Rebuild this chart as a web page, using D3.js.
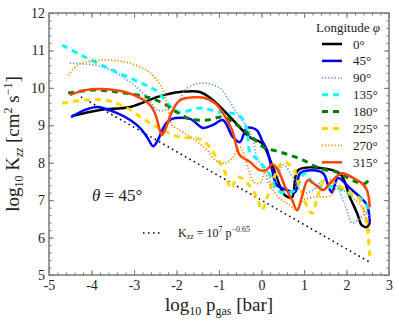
<!DOCTYPE html>
<html>
<head>
<meta charset="utf-8">
<script src="https://cdn.jsdelivr.net/npm/d3@7"></script>
<style>
  body { margin: 0; background: #fff; }
  svg { display: block; }
  text { font-family: "Liberation Serif", "DejaVu Serif", serif; fill: #222; font-weight: normal; }
</style>
</head>
<body>
<div id="chart"></div>
<script>
// log10 p_gas [bar], log10 Kzz [cm2 s-1] per longitude
const lon0 = [[-4.46,9.25],[-3.80,9.41],[-3.09,9.49],[-2.39,9.78],[-1.92,9.89],[-1.45,9.89],[-1.14,9.67],[-0.67,9.14],[-0.27,8.68],[0.01,8.52],[0.25,7.94],[0.55,7.13],[0.72,7.08],[0.86,7.80],[1.38,7.86],[1.85,7.70],[2.08,7.08],[2.25,6.65],[2.36,6.33],[2.48,6.28],[2.55,6.41]];
const lon45 = [[-4.48,9.22],[-4.15,9.41],[-3.87,9.49],[-3.45,9.35],[-3.09,9.14],[-2.86,8.93],[-2.69,8.68],[-2.55,8.44],[-2.44,8.60],[-2.27,9.01],[-2.11,9.17],[-1.68,9.17],[-1.38,8.93],[-1.14,9.01],[-0.91,9.14],[-0.67,8.68],[-0.51,8.55],[-0.34,8.93],[-0.11,8.87],[0.01,8.60],[0.13,8.34],[0.25,7.80],[0.36,7.40],[0.60,7.27],[0.79,7.21],[0.91,7.72],[1.19,7.80],[1.45,7.72],[1.59,7.32],[1.66,7.21],[1.80,7.59],[2.08,7.32],[2.32,7.08],[2.48,6.87],[2.55,6.41]];
const lon90 = [[-4.51,10.66],[-3.73,10.56],[-3.16,10.21],[-2.69,9.75],[-2.46,9.41],[-2.27,9.41],[-1.99,9.59],[-1.75,9.99],[-1.38,10.13],[-0.98,9.99],[-0.81,9.75],[-0.58,9.33],[-0.34,8.95],[-0.20,8.60],[-0.11,8.15],[0.08,7.75],[0.20,7.40],[0.34,7.53],[0.51,7.94],[0.74,7.61],[0.98,7.19],[1.21,7.27],[1.45,7.53],[1.68,7.53],[1.89,7.08],[2.01,6.73],[2.13,6.39],[2.27,6.47],[2.48,6.65],[2.55,6.52]];
const lon135 = [[-4.69,11.14],[-4.20,10.85],[-3.56,10.50],[-2.93,10.18],[-2.46,9.91],[-2.27,9.67],[-2.11,9.46],[-1.92,9.35],[-1.45,9.46],[-0.98,9.35],[-0.51,9.25],[-0.34,8.87],[-0.27,8.28],[-0.08,8.07],[0.20,7.67],[0.36,7.27],[0.60,7.19],[0.79,7.27],[1.02,7.72],[1.21,7.45],[1.45,7.32],[1.73,7.37],[2.01,7.19],[2.32,7.05],[2.48,6.87],[2.55,6.65]];
const lon180 = [[-4.55,9.86],[-3.96,9.94],[-3.40,9.89],[-2.93,9.81],[-2.62,9.73],[-2.32,9.59],[-1.99,9.35],[-1.68,9.17],[-1.28,9.14],[-0.91,9.22],[-0.58,9.01],[-0.27,8.74],[0.04,8.42],[0.36,8.31],[0.67,8.20],[0.98,8.07],[1.31,7.88],[1.54,7.80],[1.78,7.75],[2.01,7.61],[2.25,7.48],[2.44,7.45],[2.55,7.59]];
const lon225 = [[-4.69,9.59],[-4.15,9.67],[-3.68,9.67],[-3.21,9.49],[-2.74,9.14],[-2.27,8.84],[-1.92,8.68],[-1.56,8.66],[-1.33,8.55],[-1.09,8.20],[-0.86,7.75],[-0.72,7.32],[-0.55,7.62],[-0.27,7.37],[-0.08,7.00],[0.01,6.73],[0.15,7.13],[0.32,7.67],[0.51,8.02],[0.74,7.86],[0.91,7.32],[1.09,6.79],[1.19,6.65],[1.33,7.13],[1.49,7.53],[1.78,7.40],[2.08,7.21],[2.32,7.00],[2.44,6.60],[2.51,6.06],[2.55,5.48]];
const lon270 = [[-4.55,10.34],[-4.32,10.61],[-3.99,10.72],[-3.56,10.74],[-3.09,10.66],[-2.62,10.40],[-2.34,9.99],[-2.20,9.46],[-2.11,9.01],[-1.92,8.87],[-1.56,8.60],[-1.28,8.34],[-1.09,8.07],[-0.86,7.99],[-0.69,8.12],[-0.51,8.42],[-0.32,7.88],[-0.18,7.48],[-0.04,7.45],[0.11,7.80],[0.27,7.27],[0.48,7.00],[0.67,6.87],[0.81,6.73],[0.98,7.00],[1.26,7.08],[1.61,7.11],[1.78,7.32],[2.08,7.13],[2.36,6.81],[2.48,6.47],[2.55,6.12]];
const lon315 = [[-4.51,9.81],[-4.15,9.94],[-3.80,9.97],[-3.21,9.89],[-2.86,9.73],[-2.62,9.54],[-2.51,9.33],[-2.39,8.87],[-2.34,8.74],[-2.25,8.93],[-2.11,9.35],[-1.92,9.67],[-1.56,9.75],[-1.33,9.73],[-1.09,9.59],[-0.91,9.33],[-0.69,8.87],[-0.51,8.20],[-0.27,8.02],[-0.04,7.80],[0.11,7.80],[0.25,7.96],[0.39,7.80],[0.55,7.37],[0.72,7.00],[0.84,6.73],[0.95,7.08],[1.09,7.53],[1.28,7.40],[1.45,7.27],[1.61,7.45],[1.89,7.72],[2.13,7.61],[2.36,7.45],[2.48,7.27],[2.55,6.81]];
// reference Kzz = 1e7 p^-0.65 (end points)
const refLine = [[-4.25,9.76],[2.55,5.34]];

const xTicks = [-5,-4,-3,-2,-1,0,1,2,3];
const yTicks = [5,6,7,8,9,10,11,12];
const lonLabels = ["0°","45°","90°","135°","180°","225°","270°","315°"];

const width = 399, height = 324;
const margin = { top: 13, right: 10, bottom: 49, left: 49 };

const series = [
  { data: lon0,   color: "#000000", w: 2.5, dash: null },
  { data: lon45,  color: "#0000ff", w: 2.5, dash: null },
  { data: lon90,  color: "#6495ed", w: 1.8, dash: "1.2,2" },
  { data: lon135, color: "#00ffff", w: 3,   dash: "6,5" },
  { data: lon180, color: "#008000", w: 3,   dash: "6,5" },
  { data: lon225, color: "#ffd700", w: 3,   dash: "6,5" },
  { data: lon270, color: "#ff8c00", w: 1.8, dash: "1.2,2" },
  { data: lon315, color: "#ff4500", w: 2.5, dash: null }
];

const serif = "'Liberation Serif', 'DejaVu Serif', serif";

const svg = d3.select("#chart").append("svg")
  .attr("width", width).attr("height", height);

const x = d3.scaleLinear([-5, 3], [margin.left, width - margin.right]);
const y = d3.scaleLinear([5, 12], [height - margin.bottom, margin.top]);

const minorX = d3.range(-5, 3.001, 0.2).map(d => +d.toFixed(1));
const minorY = d3.range(5, 12.001, 0.2).map(d => +d.toFixed(1));
const axisColor = "#7a7a7a";

function styleAxis(g) {
  g.select(".domain").remove();
  g.selectAll(".tick line").attr("stroke", axisColor).attr("stroke-width", 1);
  g.selectAll(".tick text").attr("font-size", 14).attr("font-family", serif).attr("fill", "#222");
}

// minor ticks
svg.append("g").attr("transform", `translate(0,${y(5)})`)
  .call(d3.axisBottom(x).tickValues(minorX).tickSize(-2.5).tickFormat("")).call(styleAxis);
svg.append("g").attr("transform", `translate(0,${y(12)})`)
  .call(d3.axisTop(x).tickValues(minorX).tickSize(-2.5).tickFormat("")).call(styleAxis);
svg.append("g").attr("transform", `translate(${x(-5)},0)`)
  .call(d3.axisLeft(y).tickValues(minorY).tickSize(-2.5).tickFormat("")).call(styleAxis);
svg.append("g").attr("transform", `translate(${x(3)},0)`)
  .call(d3.axisRight(y).tickValues(minorY).tickSize(-2.5).tickFormat("")).call(styleAxis);

// major ticks
svg.append("g").attr("transform", `translate(0,${y(5)})`)
  .call(d3.axisBottom(x).tickValues(xTicks).tickSize(-5).tickPadding(5).tickFormat(d => String(d))).call(styleAxis);
svg.append("g").attr("transform", `translate(0,${y(12)})`)
  .call(d3.axisTop(x).tickValues(xTicks).tickSize(-5).tickFormat("")).call(styleAxis);
svg.append("g").attr("transform", `translate(${x(-5)},0)`)
  .call(d3.axisLeft(y).tickValues(yTicks).tickSize(-5).tickPadding(4).tickFormat(d => String(d))).call(styleAxis);
svg.append("g").attr("transform", `translate(${x(3)},0)`)
  .call(d3.axisRight(y).tickValues(yTicks).tickSize(-5).tickFormat("")).call(styleAxis);

svg.append("rect")
  .attr("x", x(-5)).attr("y", y(12))
  .attr("width", x(3) - x(-5)).attr("height", y(5) - y(12))
  .attr("fill", "none").attr("stroke", axisColor).attr("stroke-width", 1.5);

const line = d3.line()
  .x(d => x(d[0]))
  .y(d => y(d[1]))
  .curve(d3.curveCatmullRom.alpha(0.5));

// reference power law
svg.append("path")
  .attr("d", d3.line().x(d => x(d[0])).y(d => y(d[1]))(refLine))
  .attr("fill", "none").attr("stroke", "#000")
  .attr("stroke-width", 1.6).attr("stroke-dasharray", "1.5,3.5");

svg.selectAll("path.lon")
  .data(series)
  .enter()
  .append("path")
  .attr("class", "lon")
  .attr("d", d => line(d.data))
  .attr("fill", "none")
  .attr("stroke", d => d.color)
  .attr("stroke-width", d => d.w)
  .attr("stroke-dasharray", d => d.dash);

// legend
const leg = svg.append("g").attr("font-family", serif).attr("font-weight", "normal");
leg.append("text").attr("x", 348).attr("y", 32).attr("text-anchor", "middle")
  .attr("font-size", 13)
  .call(t => {
    t.append("tspan").text("Longitude ");
    t.append("tspan").attr("font-style", "italic").text("φ");
  });
series.forEach((s, i) => {
  const ly = 44 + i * 16.9;
  leg.append("line")
    .attr("x1", 322).attr("x2", 342).attr("y1", ly).attr("y2", ly)
    .attr("stroke", s.color).attr("stroke-width", s.w)
    .attr("stroke-dasharray", s.dash);
  leg.append("text").attr("x", 353).attr("y", ly + 4.5)
    .attr("font-size", 13).text(lonLabels[i]);
});

// theta annotation
svg.append("text").attr("x", 92).attr("y", 201).attr("font-size", 17)
  .call(t => {
    t.append("tspan").attr("font-style", "italic").text("θ");
    t.append("tspan").text(" = 45°");
  });

// reference legend
svg.append("line").attr("x1", 143).attr("x2", 162).attr("y1", 233).attr("y2", 233)
  .attr("stroke", "#000").attr("stroke-width", 1.6).attr("stroke-dasharray", "1.5,3.5");
svg.append("text").attr("x", 178).attr("y", 237).attr("font-size", 12)
  .call(t => {
    t.append("tspan").text("K");
    t.append("tspan").attr("font-size", 8).attr("dy", 2).text("zz");
    t.append("tspan").attr("dy", -2).text(" = 10");
    t.append("tspan").attr("font-size", 8).attr("dy", -5).text("7");
    t.append("tspan").attr("dy", 5).text(" p");
    t.append("tspan").attr("font-size", 8).attr("dy", -5).text("−0.65");
  });

// axis labels
svg.append("text").attr("x", 219).attr("y", 311).attr("text-anchor", "middle")
  .attr("font-size", 19)
  .call(t => {
    t.append("tspan").text("log");
    t.append("tspan").attr("font-size", 12).attr("dy", 4).text("10");
    t.append("tspan").attr("dy", -4).text(" p");
    t.append("tspan").attr("font-size", 12).attr("dy", 4).text("gas");
    t.append("tspan").attr("dy", -4).text(" [bar]");
  });

svg.append("text")
  .attr("transform", `translate(19,${(y(5) + y(12)) / 2}) rotate(-90)`)
  .attr("text-anchor", "middle").attr("font-size", 19)
  .call(t => {
    t.append("tspan").text("log");
    t.append("tspan").attr("font-size", 12).attr("dy", 4).text("10");
    t.append("tspan").attr("dy", -4).text(" K");
    t.append("tspan").attr("font-size", 12).attr("dy", 4).attr("font-style", "italic").text("zz");
    t.append("tspan").attr("dy", -4).text(" [cm");
    t.append("tspan").attr("font-size", 12).attr("dy", -7).text("2");
    t.append("tspan").attr("dy", 7).text(" s");
    t.append("tspan").attr("font-size", 12).attr("dy", -7).text("−1");
    t.append("tspan").attr("dy", 7).text("]");
  });
</script>
</body>
</html>
